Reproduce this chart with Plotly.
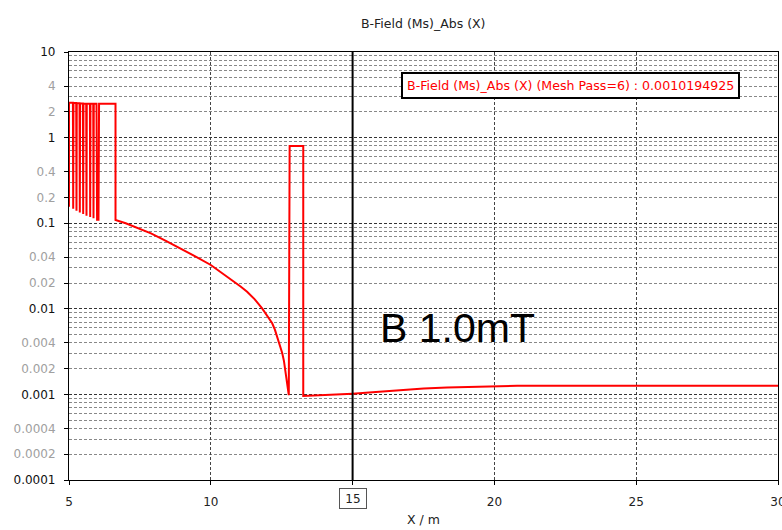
import plotly.graph_objects as go

# ---------------- data ----------------
x_vals = [5.0, 5.0,
          5.138, 5.148, 5.158,
          5.254, 5.264, 5.274,
          5.371, 5.381, 5.391,
          5.490, 5.500, 5.510,
          5.607, 5.617, 5.627,
          5.737, 5.747, 5.757,
          5.854, 5.864, 5.874,
          5.970, 5.990, 6.040, 6.060,
          6.640, 6.640,
          7.00, 7.50, 7.89, 8.40, 8.94, 9.50, 10.00, 10.34, 10.81, 11.05, 11.28, 11.55, 11.81, 12.00,
          12.165, 12.26, 12.34, 12.45, 12.52, 12.58, 12.63, 12.69, 12.75,
          12.78, 13.26, 13.26,
          13.64, 13.70, 14.40, 15.00, 15.58, 16.22, 16.81, 17.51, 18.33,
          19.27, 20.03, 20.80, 25.00, 30.00]
b_vals = [0.156, 2.55,
          2.55, 0.148, 2.54,
          2.54, 0.140, 2.52,
          2.52, 0.133, 2.50,
          2.50, 0.128, 2.49,
          2.49, 0.122, 2.48,
          2.48, 0.118, 2.48,
          2.48, 0.114, 2.48,
          2.48, 0.110, 0.110, 2.48,
          2.48, 0.109,
          0.0998, 0.0860, 0.0762, 0.0627, 0.0509, 0.0402, 0.0325, 0.0271, 0.0207, 0.0182, 0.0158, 0.0129, 0.0101, 0.0083,
          0.00677, 0.00570, 0.00472, 0.0036, 0.00302, 0.00245, 0.00193, 0.00135, 0.00098,
          0.80, 0.80, 0.00096,
          0.00097, 0.00099, 0.00100, 0.00102, 0.00105, 0.00109, 0.00113, 0.00117, 0.00120,
          0.00123, 0.00125, 0.00126, 0.00126, 0.00126]

x_ticks = [5, 10, 15, 20, 25, 30]
x_tick_text = ["5", "10", "", "20", "25", "30"]
y_major_ticks = [0.0001, 0.001, 0.01, 0.1, 1, 10]
y_major_labels = ["0.0001", "0.001", "0.01", "0.1", "1", "10"]
y_sub_ticks = [0.0002, 0.0004, 0.002, 0.004, 0.02, 0.04, 0.2, 0.4, 2, 4]
y_sub_labels = ["0.0002", "0.0004", "0.002", "0.004", "0.02", "0.04", "0.2", "0.4", "2", "4"]
y_minor = [m * 10 ** e for e in range(-4, 1) for m in range(2, 10)]

marker_x = 15
title_text = "B-Field (Ms)_Abs (X)"
legend_text = "B-Field (Ms)_Abs (X) (Mesh Pass=6) : 0.0010194925"
note_text = "B 1.0mT"
x_title = "X / m"

FONT = "DejaVu Sans"
L, R, T, B = 69, 778, 52, 480

fig = go.Figure()
fig.add_trace(go.Scatter(
    x=x_vals, y=b_vals, mode="lines",
    line=dict(color="#ff0000", width=2),
    showlegend=False, hoverinfo="skip",
))
# invisible trace so the grey-label overlay axis is drawn
fig.add_trace(go.Scatter(
    x=[x_vals[0]], y=[b_vals[0]], yaxis="y2", mode="lines",
    line=dict(color="rgba(0,0,0,0)"), showlegend=False, hoverinfo="skip",
))

fig.update_layout(
    width=782, height=530,
    margin=dict(l=L, r=782 - R, t=T, b=530 - B),
    paper_bgcolor="white", plot_bgcolor="white",
    font=dict(family=FONT, size=12, color="#222222"),
    showlegend=False,
)

fig.update_xaxes(
    range=[5, 30], automargin=False,
    tickmode="array", tickvals=x_ticks, ticktext=x_tick_text,
    tickfont=dict(family=FONT, size=12, color="#222222"),
    showgrid=True, gridcolor="#444444", griddash="3px,2px", gridwidth=1,
    showline=True, linecolor="black", linewidth=1.2, mirror=True,
    ticks="outside", ticklen=4, tickcolor="black",
    ticklabelstandoff=6, ticklabeloverflow="allow",
    zeroline=False,
    title=dict(text=x_title, standoff=7, font=dict(family=FONT, size=12.5, color="#222222")),
)

fig.update_layout(
    yaxis=dict(
        type="log", range=[-4, 1], automargin=False,
        tickmode="array", tickvals=y_major_ticks, ticktext=y_major_labels,
        tickfont=dict(family=FONT, size=12, color="#111111"),
        showgrid=True, gridcolor="#333333", griddash="3px,2px", gridwidth=1,
        minor=dict(tickmode="array", tickvals=y_minor, showgrid=True,
                   gridcolor="#888888", griddash="3px,2px", gridwidth=1, ticks=""),
        showline=True, linecolor="black", linewidth=1.2, mirror=True,
        ticks="outside", ticklen=4, tickcolor="black",
        ticklabelstandoff=6,
        zeroline=False,
    ),
    yaxis2=dict(
        type="log", range=[-4, 1], overlaying="y", side="left", automargin=False,
        tickmode="array", tickvals=y_sub_ticks, ticktext=y_sub_labels,
        tickfont=dict(family=FONT, size=12, color="#a0a0a0"),
        showgrid=False, showline=False, zeroline=False,
        ticks="outside", ticklen=4, tickcolor="black",
        ticklabelstandoff=6,
    ),
)

# marker line at x = 15
fig.add_shape(type="line", xref="x", yref="paper", x0=marker_x, x1=marker_x, y0=0, y1=1,
              line=dict(color="black", width=2))
fig.add_annotation(x=marker_x, xref="x", y=0, yref="paper", yshift=-18,
                   xanchor="center", yanchor="middle",
                   text=str(marker_x), showarrow=False,
                   bordercolor="#555555", borderwidth=1, borderpad=2,
                   width=22, height=15, bgcolor="white",
                   font=dict(family=FONT, size=12, color="#222222"))

# chart title
fig.add_annotation(x=0.5, xref="paper", y=1, yref="paper", yshift=29,
                   xanchor="center", yanchor="middle",
                   text=title_text, showarrow=False,
                   font=dict(family=FONT, size=12.5, color="#222222"))

# legend-like box
fig.add_annotation(x=(570 - L) / (R - L), xref="paper", y=1 - (85 - T) / (B - T), yref="paper",
                   xanchor="center", yanchor="middle",
                   text=legend_text, showarrow=False,
                   bordercolor="black", borderwidth=2, borderpad=4, bgcolor="white",
                   font=dict(family=FONT, size=12.6, color="#ff0000"))

# big note
fig.add_annotation(x=(457 - L) / (R - L), xref="paper", y=1 - (328 - T) / (B - T), yref="paper",
                   xanchor="center", yanchor="middle",
                   text=note_text, showarrow=False,
                   font=dict(family="Liberation Sans", size=41, color="black"))

fig.write_html("out.html")
